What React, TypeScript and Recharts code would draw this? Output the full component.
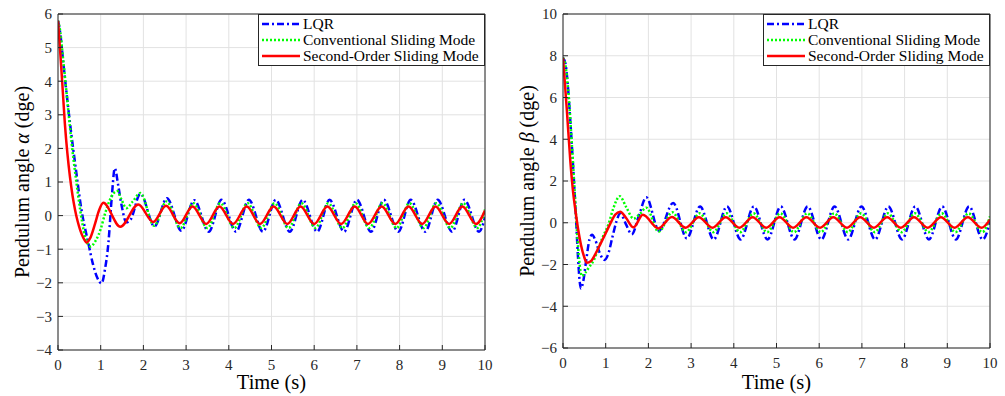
import { LineChart, Line, XAxis, YAxis, CartesianGrid, Legend } from "recharts";

type Pt = [number, number];

const FONT = '"Liberation Serif", "Times New Roman", serif';
const AXIS = "#262626";
const GRID = "#e2e2e2";

const timeTicks = [0, 1, 2, 3, 4, 5, 6, 7, 8, 9, 10];
const alphaTicks = [-4, -3, -2, -1, 0, 1, 2, 3, 4, 5, 6];
const betaTicks = [-6, -4, -2, 0, 2, 4, 6, 8, 10];

const seriesNames = ["LQR", "Conventional Sliding Mode", "Second-Order Sliding Mode"];
const seriesColors = ["#0000ff", "#00ff00", "#ff0000"];
const seriesDashes = ["7 3 2 3", "2 2", undefined];

// pendulum angle alpha, [time s, deg]
const alphaLqr: Pt[] = [
  [0, 5.8], [0.05, 5.45], [0.12, 4.6], [0.2, 3.65], [0.3, 2.55], [0.4, 1.56], [0.55, 0.17],
  [0.71, -0.82], [0.82, -1.45], [0.92, -1.85], [1.02, -2.02], [1.1, -1.6], [1.18, -0.82],
  [1.26, 0.56], [1.33, 1.41], [1.41, 0.9], [1.49, 0.3], [1.6, -0.2], [1.7, -0.12], [1.93, 0.65],
  [2.26, -0.32], [2.55, 0.52], [2.89, -0.45], [3.19, 0.46], [3.53, -0.48], [3.83, 0.47],
  [4.17, -0.48], [4.47, 0.47], [4.8, -0.48], [5.1, 0.47], [5.43, -0.48], [5.73, 0.47],
  [6.07, -0.48], [6.36, 0.47], [6.7, -0.48], [7.0, 0.47], [7.33, -0.48], [7.63, 0.47],
  [7.97, -0.48], [8.26, 0.47], [8.6, -0.48], [8.89, 0.47], [9.23, -0.48], [9.52, 0.47],
  [9.86, -0.48], [10, -0.05],
];

const alphaCsm: Pt[] = [
  [0, 5.8], [0.05, 5.5], [0.12, 4.65], [0.22, 3.4], [0.32, 2.15], [0.42, 1.1], [0.52, 0.17],
  [0.63, -0.6], [0.76, -0.92], [0.88, -0.75], [1.0, -0.4], [1.1, 0.05], [1.2, 0.42], [1.3, 0.66],
  [1.39, 0.73], [1.48, 0.5], [1.6, 0.22], [1.75, 0.42], [1.93, 0.67], [2.25, -0.3], [2.54, 0.42],
  [2.87, -0.37], [3.17, 0.37], [3.5, -0.37], [3.8, 0.37], [4.13, -0.37], [4.44, 0.37],
  [4.76, -0.37], [5.07, 0.37], [5.4, -0.37], [5.7, 0.37], [6.03, -0.37], [6.33, 0.37],
  [6.66, -0.37], [6.97, 0.37], [7.29, -0.37], [7.6, 0.37], [7.93, -0.37], [8.23, 0.37],
  [8.56, -0.37], [8.86, 0.37], [9.19, -0.37], [9.49, 0.37], [9.82, -0.37], [10, 0.18],
];

const alphaSo: Pt[] = [
  [0, 5.8], [0.05, 4.9], [0.1, 3.95], [0.16, 2.75], [0.22, 1.85], [0.28, 1.15], [0.34, 0.6],
  [0.4, 0.17], [0.46, -0.17], [0.52, -0.43], [0.59, -0.65], [0.67, -0.8], [0.75, -0.68],
  [0.87, -0.23], [0.96, 0.15], [1.06, 0.38], [1.46, -0.33], [1.88, 0.33], [2.23, -0.19],
  [2.53, 0.29], [2.85, -0.23], [3.15, 0.27], [3.47, -0.25], [3.78, 0.27], [4.1, -0.25],
  [4.42, 0.27], [4.73, -0.25], [5.05, 0.27], [5.37, -0.25], [5.68, 0.27], [6.0, -0.25],
  [6.31, 0.27], [6.63, -0.25], [6.95, 0.27], [7.26, -0.25], [7.58, 0.27], [7.9, -0.25],
  [8.21, 0.27], [8.53, -0.25], [8.84, 0.27], [9.16, -0.25], [9.47, 0.27], [9.79, -0.25],
  [10, 0.15],
];

// pendulum angle beta, [time s, deg]
const betaLqr: Pt[] = [
  [0, 7.9], [0.06, 7.6], [0.12, 6.4], [0.18, 4.6], [0.24, 2.6], [0.3, 0.4], [0.35, -1.6],
  [0.39, -2.8], [0.42, -3.15], [0.47, -2.85], [0.55, -1.7], [0.62, -0.8], [0.68, -0.58],
  [0.76, -0.85], [0.86, -1.45], [0.97, -1.78], [1.05, -1.55], [1.15, -0.75], [1.25, 0.05],
  [1.34, 0.45], [1.47, -0.05], [1.61, -0.55], [1.78, 0.35], [1.95, 1.22], [2.25, -0.38],
  [2.58, 0.95], [2.9, -0.75], [3.21, 0.78], [3.53, -0.8], [3.84, 0.78], [4.16, -0.8],
  [4.47, 0.78], [4.79, -0.8], [5.1, 0.78], [5.42, -0.8], [5.73, 0.78], [6.05, -0.8],
  [6.36, 0.78], [6.68, -0.8], [6.99, 0.78], [7.31, -0.8], [7.62, 0.78], [7.94, -0.8],
  [8.25, 0.78], [8.57, -0.8], [8.88, 0.78], [9.2, -0.8], [9.51, 0.78], [9.83, -0.8], [10, 0.05],
];

const betaCsm: Pt[] = [
  [0, 7.9], [0.06, 7.5], [0.12, 6.4], [0.2, 4.0], [0.27, 1.6], [0.33, -0.5], [0.38, -1.8],
  [0.44, -2.55], [0.52, -2.4], [0.62, -2.1], [0.72, -1.8], [0.85, -1.1], [0.96, -0.55],
  [1.06, -0.1], [1.18, 0.7], [1.33, 1.27], [1.48, 0.75], [1.65, 0.2], [1.8, 0.42], [1.95, 0.72],
  [2.24, -0.43], [2.56, 0.5], [2.88, -0.45], [3.2, 0.45], [3.52, -0.45], [3.83, 0.45],
  [4.15, -0.45], [4.46, 0.45], [4.78, -0.45], [5.09, 0.45], [5.41, -0.45], [5.72, 0.45],
  [6.04, -0.45], [6.35, 0.45], [6.67, -0.45], [6.98, 0.45], [7.3, -0.45], [7.61, 0.45],
  [7.93, -0.45], [8.24, 0.45], [8.56, -0.45], [8.87, 0.45], [9.19, -0.45], [9.5, 0.45],
  [9.82, -0.45], [10, 0.3],
];

const betaSo: Pt[] = [
  [0, 7.9], [0.04, 6.8], [0.09, 5.4], [0.17, 3.0], [0.23, 1.6], [0.29, 0.6], [0.35, -0.25],
  [0.42, -1.05], [0.49, -1.6], [0.56, -1.92], [0.65, -1.85], [0.77, -1.45], [0.88, -1.0],
  [1.0, -0.5], [1.11, -0.03], [1.22, 0.38], [1.34, 0.53], [1.47, 0.25], [1.65, -0.22],
  [1.87, 0.38], [2.23, -0.27], [2.55, 0.27], [2.87, -0.24], [3.18, 0.26], [3.5, -0.24],
  [3.81, 0.26], [4.13, -0.24], [4.44, 0.26], [4.76, -0.24], [5.07, 0.26], [5.39, -0.24],
  [5.7, 0.26], [6.02, -0.24], [6.33, 0.26], [6.65, -0.24], [6.96, 0.26], [7.28, -0.24],
  [7.59, 0.26], [7.91, -0.24], [8.22, 0.26], [8.54, -0.24], [8.85, 0.26], [9.17, -0.24],
  [9.48, 0.26], [9.8, -0.24], [10, 0.15],
];

const toRows = (pts: Pt[]) => pts.map(([t, v]) => ({ t, v }));
const fmt = (v: number) => (v < 0 ? `\u2212${-v}` : `${v}`);

const tickText = { fontFamily: FONT, fontSize: 15 };

function TimeTick({ x, y, payload }: any) {
  return (
    <text x={x} y={y} dy="0.71em" textAnchor="middle" fill={AXIS} style={tickText}>
      {fmt(payload.value)}
    </text>
  );
}

function AngleTick({ x, y, payload }: any) {
  return (
    <text x={x} y={y} dy="0.355em" textAnchor="end" fill={AXIS} style={tickText}>
      {fmt(payload.value)}
    </text>
  );
}

function LegendBox() {
  return (
    <div
      style={{
        boxSizing: "border-box",
        border: `1px solid ${AXIS}`,
        background: "#fff",
        padding: "1px 0 1px 3px",
        fontFamily: FONT,
        fontSize: 15.5,
        color: "#000",
      }}
    >
      {seriesNames.map((name, i) => (
        <div key={name} style={{ display: "flex", alignItems: "center", height: 16, whiteSpace: "nowrap" }}>
          <svg width={38} height={8} style={{ marginRight: 3, flexShrink: 0 }}>
            <line x1={0} y1={4} x2={38} y2={4} stroke={seriesColors[i]} strokeWidth={2.5} strokeDasharray={seriesDashes[i]} />
          </svg>
          <span>{name}</span>
        </div>
      ))}
    </div>
  );
}

type PanelProps = {
  left: number;
  width: number;
  axisW: number;
  bottom: number;
  series: Pt[][];
  yDomain: [number, number];
  yTicks: number[];
  greek: string;
};

function Panel({ left, width, axisW, bottom, series, yDomain, yTicks, greek }: PanelProps) {
  const plotL = axisW;
  const plotR = width - 15;
  const plotT = 14;
  const plotB = 396 - bottom - 30;

  return (
    <div style={{ position: "absolute", left, top: 0, width, height: 396, fontFamily: FONT }}>
      <LineChart width={width} height={396} margin={{ top: 13, right: 14, left: 0, bottom }}>
        <CartesianGrid stroke={GRID} strokeWidth={1} />
        <XAxis
          dataKey="t"
          type="number"
          domain={[0, 10]}
          ticks={timeTicks}
          interval={0}
          height={30}
          allowDataOverflow
          tick={<TimeTick />}
          tickSize={-5}
          tickMargin={14}
          stroke={AXIS}
        />
        <XAxis
          xAxisId="top"
          orientation="top"
          type="number"
          domain={[0, 10]}
          ticks={timeTicks}
          interval={0}
          height={1}
          tick={false}
          tickSize={-5}
          stroke={AXIS}
        />
        <YAxis
          type="number"
          domain={yDomain}
          ticks={yTicks}
          interval={0}
          width={axisW}
          allowDataOverflow
          tick={<AngleTick />}
          tickSize={-5}
          tickMargin={11}
          stroke={AXIS}
        />
        <YAxis
          yAxisId="r"
          orientation="right"
          type="number"
          domain={yDomain}
          ticks={yTicks}
          interval={0}
          width={1}
          tick={false}
          tickSize={-5}
          stroke={AXIS}
        />
        {series.map((pts, i) => (
          <Line
            key={seriesNames[i]}
            data={toRows(pts)}
            dataKey="v"
            name={seriesNames[i]}
            type="monotone"
            stroke={seriesColors[i]}
            strokeWidth={2.5}
            strokeDasharray={seriesDashes[i]}
            dot={false}
            activeDot={false}
            isAnimationActive={false}
          />
        ))}
        <Legend
          layout="vertical"
          align="center"
          verticalAlign="middle"
          content={<LegendBox />}
          wrapperStyle={{ left: plotR - 227, top: plotT, width: 227 }}
        />
      </LineChart>

      {/* axis titles */}
      <div
        style={{
          position: "absolute",
          left: plotL - 36,
          top: (plotT + plotB) / 2,
          transform: "translate(-50%, -50%) rotate(-90deg)",
          fontFamily: FONT,
          fontSize: 20,
          lineHeight: "14px",
          whiteSpace: "nowrap",
          color: "#000",
        }}
      >
        Pendulum angle <i>{greek}</i> (dge)
      </div>
      <div
        style={{
          position: "absolute",
          left: (plotL + plotR) / 2,
          top: 382,
          transform: "translate(-50%, -50%)",
          fontFamily: FONT,
          fontSize: 20.5,
          lineHeight: "14px",
          whiteSpace: "nowrap",
          color: "#000",
        }}
      >
        Time (s)
      </div>
    </div>
  );
}

export default function App() {
  return (
    <div style={{ position: "absolute", left: 0, top: 0, width: 1005, height: 396, background: "#fff", overflow: "hidden" }}>
      <Panel
        left={0}
        width={500}
        axisW={58}
        bottom={16}
        series={[alphaLqr, alphaCsm, alphaSo]}
        yDomain={[-4, 6]}
        yTicks={alphaTicks}
        greek={"\u03b1"}
      />
      <Panel
        left={500}
        width={505}
        axisW={63}
        bottom={18}
        series={[betaLqr, betaCsm, betaSo]}
        yDomain={[-6, 10]}
        yTicks={betaTicks}
        greek={"\u03b2"}
      />
    </div>
  );
}
